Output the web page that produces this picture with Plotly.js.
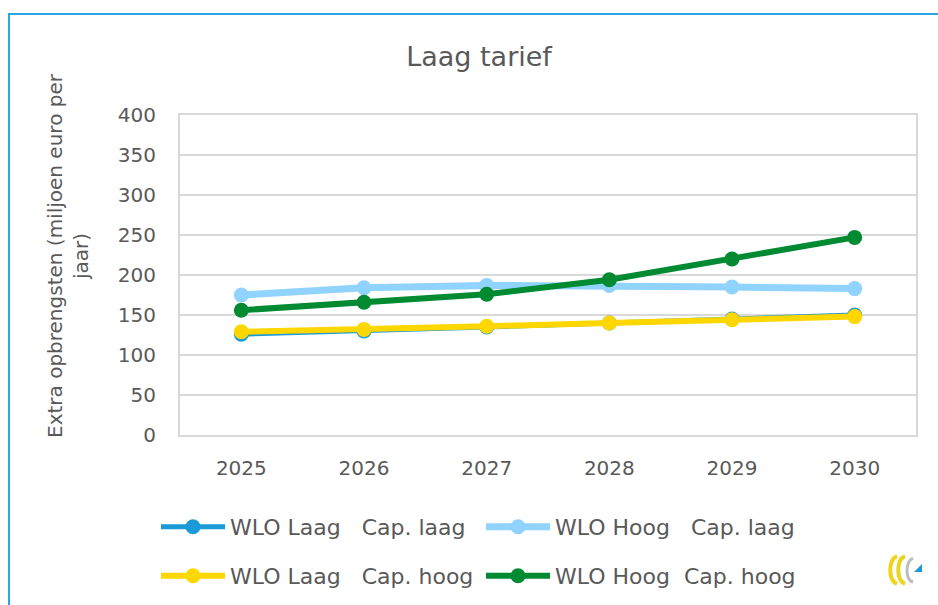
<!DOCTYPE html>
<html>
<head>
<meta charset="utf-8">
<script src="https://cdn.plot.ly/plotly-3.0.1.min.js"></script>
<style>
html,body{margin:0;padding:0;background:#fff;}
#wrap{position:relative;width:938px;height:605px;overflow:hidden;}
#frame{position:absolute;left:8px;top:13px;width:940px;height:600px;border-top:2px solid #2aa7df;border-left:2px solid #2aa7df;box-sizing:border-box;pointer-events:none;z-index:5;}
#chart{position:absolute;left:0;top:0;width:938px;height:605px;}
</style>
</head>
<body>
<div id="wrap">
<div id="chart"></div>
<div id="frame"></div>
</div>
<script>
const years = ['2025','2026','2027','2028','2029','2030'];
const seriesNames = ['WLO Laag   Cap. laag','WLO Hoog   Cap. laag','WLO Laag   Cap. hoog','WLO Hoog  Cap. hoog'];
const wloLaagCapLaag = [126, 130, 135, 140, 145, 150];
const wloHoogCapLaag = [175, 184, 187, 187, 185, 183];
const wloLaagCapHoog = [129, 132, 136, 140, 144, 148];
const wloHoogCapHoog = [156, 166, 176, 194, 220, 247];
const yTicks = [0, 50, 100, 150, 200, 250, 300, 350, 400];
const chartTitle = 'Laag tarief';
const yTitle = 'Extra opbrengsten (miljoen euro per<br>jaar)';

const colors = ['#1a9ad6', '#8fd3fe', '#ffd700', '#008a32'];
const widths = [5, 7, 6, 6];
const values = [wloLaagCapLaag, wloHoogCapLaag, wloLaagCapHoog, wloHoogCapHoog];
const legendIds = ['legend', 'legend2', 'legend3', 'legend4'];
// legend slot positions (container px): [x, y]
const legendPos = [[156, 527], [481, 527], [156, 576], [481, 576]];

const traces = values.map((v, i) => ({
  type: 'scatter',
  mode: 'lines+markers',
  x: years,
  y: v,
  name: seriesNames[i],
  legend: legendIds[i],
  line: {color: colors[i], width: widths[i]},
  marker: {color: colors[i], size: 15, symbol: 'circle'},
  hoverinfo: 'x+y+name'
}));

const fontFam = 'DejaVu Sans, Verdana, sans-serif';
const gray = '#595959';

const W = 938, H = 605;

const layout = {
  width: W, height: H,
  paper_bgcolor: '#ffffff', plot_bgcolor: '#ffffff',
  margin: {l: 180, r: 22, t: 115, b: 170},
  font: {family: fontFam, color: gray},
  title: {
    text: chartTitle,
    font: {family: fontFam, size: 27, color: gray},
    xref: 'container', yref: 'container',
    x: 479/W, xanchor: 'center',
    y: 1 - 57/H, yanchor: 'middle'
  },
  xaxis: {
    type: 'category',
    range: [-0.5, 5.5],
    showgrid: false,
    showline: true, linecolor: '#d9d9d9', linewidth: 2,
    mirror: true,
    ticks: '',
    ticklabelstandoff: 14,
    tickfont: {family: fontFam, size: 20, color: gray},
    zeroline: false,
    fixedrange: true
  },
  yaxis: {
    range: [0, 400],
    tickvals: yTicks,
    showgrid: true, gridcolor: '#d9d9d9', gridwidth: 2,
    showline: true, linecolor: '#d9d9d9', linewidth: 2,
    mirror: true,
    zeroline: false,
    ticks: '',
    ticklabelstandoff: 18,
    tickfont: {family: fontFam, size: 20, color: gray},
    automargin: false,
    fixedrange: true
  },
  annotations: [{
    text: yTitle,
    textangle: -90,
    xref: 'paper', yref: 'paper',
    x: (68 - 180) / 736, y: (435 - 256) / 320,
    xanchor: 'center', yanchor: 'middle',
    showarrow: false,
    font: {family: fontFam, size: 20, color: gray}
  }],
  showlegend: true
};

legendIds.forEach((id, i) => {
  layout[id] = {
    orientation: 'h',
    xref: 'container', yref: 'container',
    x: legendPos[i][0] / W, y: 1 - legendPos[i][1] / H,
    xanchor: 'left', yanchor: 'middle',
    itemwidth: 64,
    font: {family: fontFam, size: 22, color: gray},
    bgcolor: 'rgba(0,0,0,0)'
  };
});

const logoSvg = '<svg xmlns="http://www.w3.org/2000/svg" width="44" height="40" viewBox="0 0 44 40">' +
  '<path d="M13 6 C4 10 4 30 13 34" stroke="#f2d21b" stroke-width="4" fill="none"/>' +
  '<path d="M21 6 C12 10 12 30 21 34" stroke="#e8d520" stroke-width="4" fill="none"/>' +
  '<path d="M29 8 C21 12 21 30 29 32" stroke="#bdbdbd" stroke-width="3" fill="none"/>' +
  '<polygon points="30,22 38,14 38,22" fill="#1a9ad6"/></svg>';

layout.images = [{
  source: 'data:image/svg+xml;utf8,' + encodeURIComponent(logoSvg),
  xref: 'paper', yref: 'paper',
  x: (884 - 180) / 736, y: -(550 - 435) / 320,
  sizex: 44 / 736, sizey: 40 / 320,
  xanchor: 'left', yanchor: 'top',
  sizing: 'contain',
  layer: 'above'
}];

Plotly.newPlot('chart', traces, layout, {displayModeBar: false, staticPlot: true});
</script>
</body>
</html>
